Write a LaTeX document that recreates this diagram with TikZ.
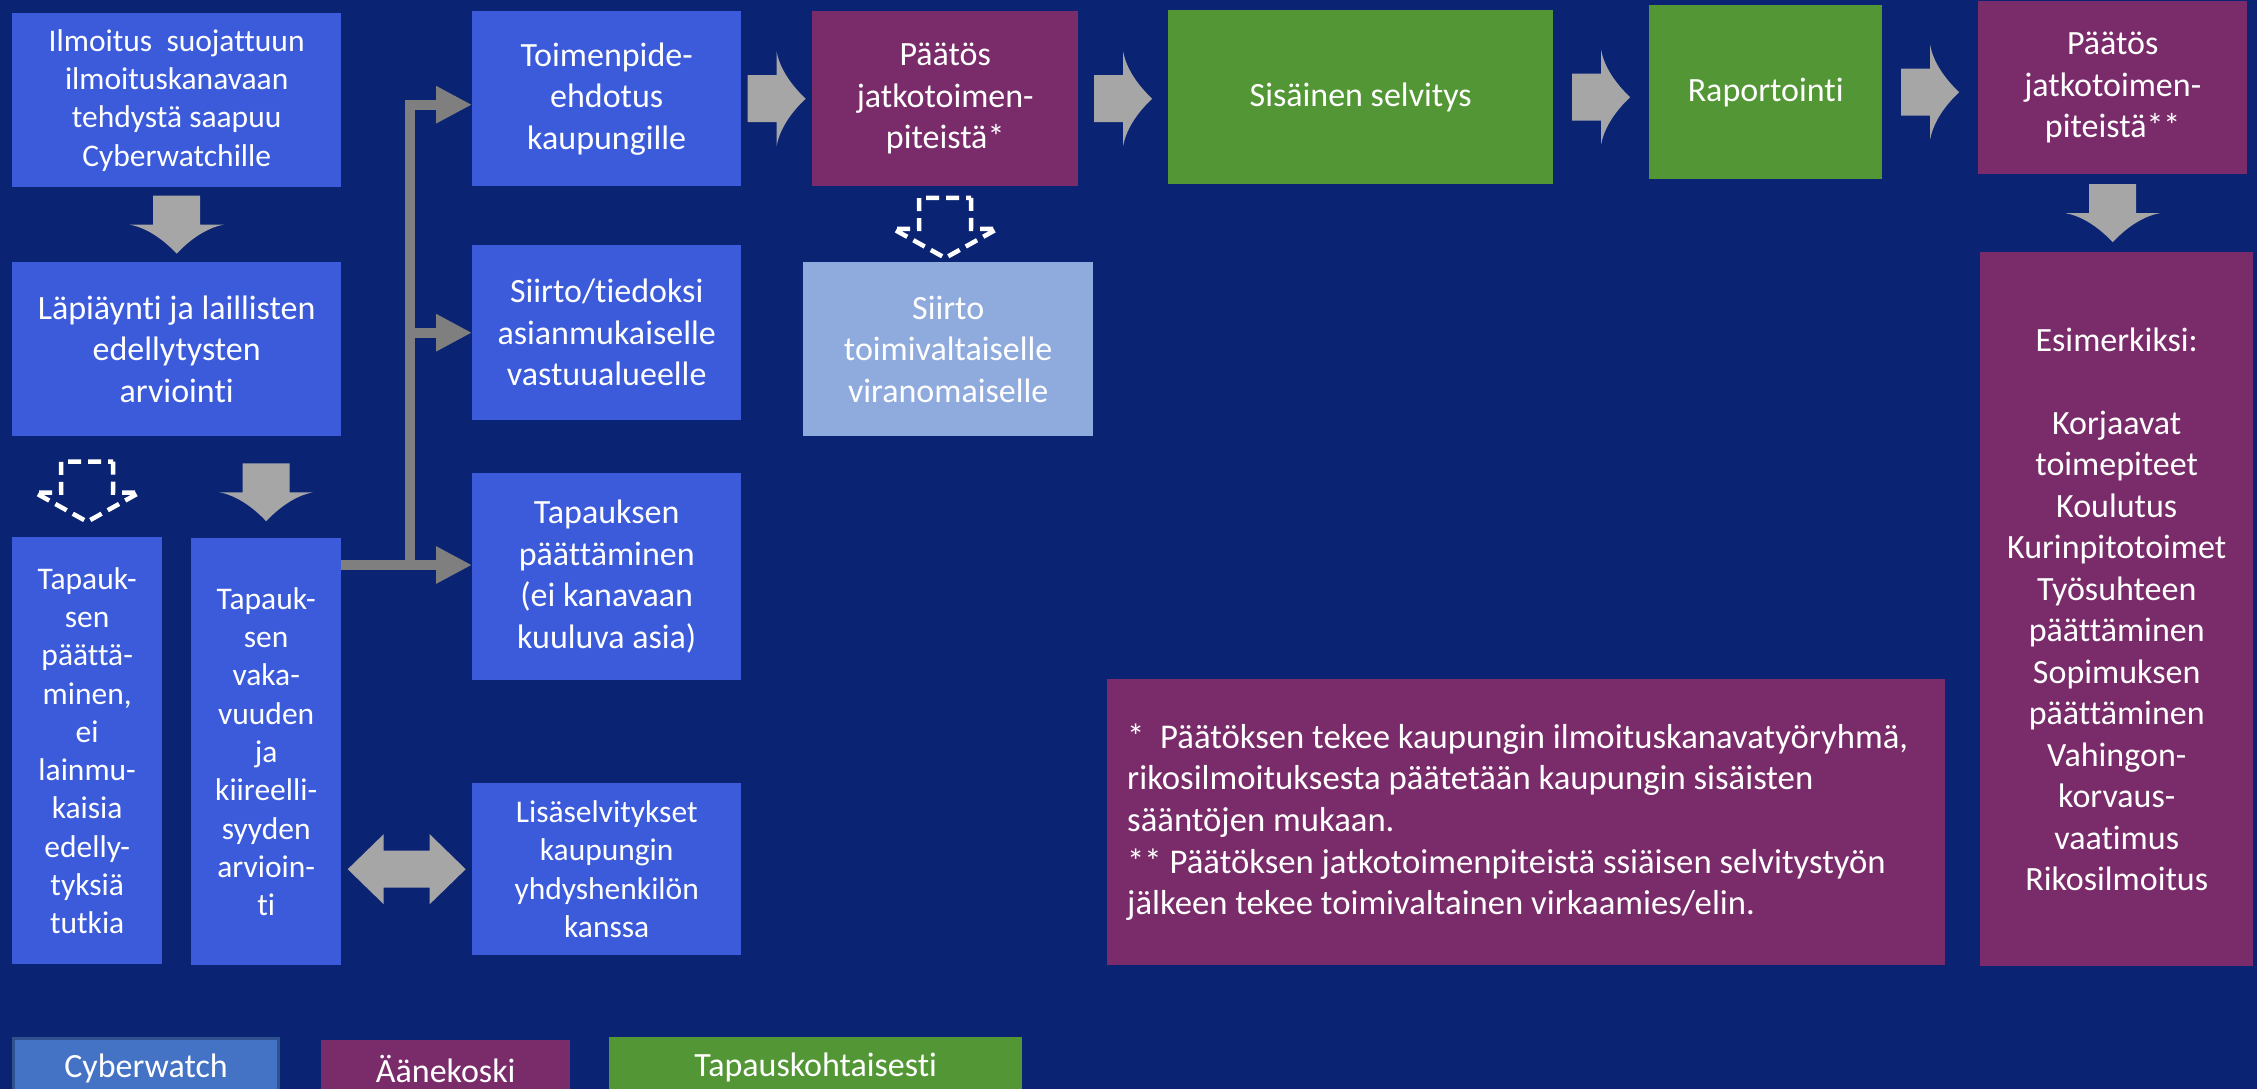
\documentclass[tikz,border=0pt]{standalone}
\usepackage{fontspec}
\setmainfont{Carlito}[Ligatures=NoCommon]
\usetikzlibrary{arrows.meta,calc}
\definecolor{bg}{HTML}{0B2373}
\definecolor{blu}{HTML}{3B5BDB}
\definecolor{purp}{HTML}{7A2C6A}
\definecolor{grn}{HTML}{539636}
\definecolor{lblu}{HTML}{8FAADC}
\definecolor{cyb}{HTML}{4472C4}
\definecolor{cybb}{HTML}{2F528F}
\definecolor{agray}{HTML}{A6A6A6}
\definecolor{cgray}{HTML}{7F7F7F}
\tikzset{
   blk/.pic={\fill[agray] (-29,-23.5) -- (0,-23.5) -- (0,-47)
      .. controls (3,-30) and (15,-13) .. (29,0)
      .. controls (15,13) and (3,30) .. (0,47) -- (0,23.5) -- (-29,23.5) -- cycle;},
   dsh/.pic={\draw[white, line width=4.5pt, dash pattern=on 13pt off 7pt]
      (-30,-26) -- (1,-26) -- (1,-52) -- (30,0) -- (1,52) -- (1,26) -- (-30,26) -- cycle;},
   dbl/.pic={\fill[agray] (-59,0) -- (-23,-35) -- (-23,-18.5) -- (23,-18.5) -- (23,-35)
      -- (59,0) -- (23,35) -- (23,18.5) -- (-23,18.5) -- (-23,35) -- cycle;}
}
\begin{document}
\begin{tikzpicture} [
   x=1pt, y=-1pt,
   bx/.style={anchor=north west, inner sep=0pt, align=center, text=white,
      font=\fontsize{34}{41.5}\selectfont},
   sm/.style={font=\fontsize{31.5}{38.3}\selectfont},
   conn/.style={draw=cgray, line width=10pt, -{Triangle[width=35pt,length=36pt]}}
]
   \clip (0,0) rectangle (2257,1089);
   \fill[bg] (0,0) rectangle (2257,1089);

   \node (ilm) [bx, sm, fill=blu, minimum width=329pt, minimum height=174pt] at (12,13)
      {Ilmoitus~ suojattuun\\ilmoituskanavaan\\tehdystä saapuu\\Cyberwatchille};
   \node (lapi) [bx, fill=blu, minimum width=329pt, minimum height=174pt] at (12,262)
      {Läpiäynti ja laillisten\\edellytysten\\arviointi};
   \node (lop) [bx, sm, fill=blu, minimum width=150pt, minimum height=427pt] at (12,537)
      {Tapauk-\\sen\\päättä-\\minen,\\ei\\lainmu-\\kaisia\\edelly-\\tyksiä\\tutkia};
   \node (vak) [bx, sm, fill=blu, minimum width=150pt, minimum height=427pt] at (191,538)
      {Tapauk-\\sen\\vaka-\\vuuden\\ja\\kiireelli-\\syyden\\arvioin-\\ti};
   \node (toim) [bx, fill=blu, minimum width=269pt, minimum height=175pt] at (472,11)
      {Toimenpide-\\ehdotus\\kaupungille};
   \node (sii) [bx, fill=blu, minimum width=269pt, minimum height=175pt] at (472,245)
      {Siirto/tiedoksi\\asianmukaiselle\\vastuualueelle};
   \node (paatt) [bx, fill=blu, minimum width=269pt, minimum height=207pt] at (472,473)
      {Tapauksen\\päättäminen\\(ei kanavaan\\kuuluva asia)};
   \node (lisa) [bx, sm, fill=blu, minimum width=269pt, minimum height=172pt] at (472,783)
      {Lisäselvitykset\\kaupungin\\yhdyshenkilön\\kanssa};
   \node (paat1) [bx, fill=purp, minimum width=266pt, minimum height=175pt] at (812,11)
      {Päätös\\jatkotoimen-\\piteistä*};
   \node (viran) [bx, fill=lblu, minimum width=290pt, minimum height=174pt] at (803,262)
      {Siirto\\toimivaltaiselle\\viranomaiselle};
   \node (sisa) [bx, fill=grn, minimum width=385pt, minimum height=174pt] at (1168,10)
      {Sisäinen selvitys};
   \node (rap) [bx, fill=grn, minimum width=233pt, minimum height=174pt] at (1649,5)
      {Raportointi};
   \node (paat2) [bx, fill=purp, minimum width=269pt, minimum height=173pt] at (1978,1)
      {Päätös\\jatkotoimen-\\piteistä**};
   \node (esim) [bx, fill=purp, minimum width=273pt, minimum height=714pt] at (1980,252)
      {Esimerkiksi:\\[41.5pt]Korjaavat\\toimepiteet\\Koulutus\\Kurinpitotoimet\\Työsuhteen\\päättäminen\\Sopimuksen\\päättäminen\\Vahingon-\\korvaus-\\vaatimus\\Rikosilmoitus};
   \node (note) [bx, fill=purp, minimum width=838pt, minimum height=286pt] at (1107,679) {};
   \node (notetxt) [bx, anchor=west, align=left, font=\fontsize{34.7}{41.7}\selectfont]
      at ($(note.west)+(20,0)$)
      {*~ Päätöksen tekee kaupungin ilmoituskanavatyöryhmä,\\
       rikosilmoituksesta päätetään kaupungin sisäisten\\
       sääntöjen mukaan.\\
       ** Päätöksen jatkotoimenpiteistä ssiäisen selvitystyön\\
       jälkeen tekee toimivaltainen virkaamies/elin.};

   \node (lcyb) [bx, fill=cyb, draw=cybb, line width=3pt, minimum width=265pt, minimum height=60pt] at (12,1037) {Cyberwatch};
   \node (laan) [bx, fill=purp, minimum width=249pt, minimum height=57pt] at (321,1040) {Äänekoski};
   \node (ltap) [bx, fill=grn, minimum width=413pt, minimum height=60pt] at (609,1037) {Tapauskohtaisesti};

   \pic[rotate=-90] at ($(ilm.south)!.5!(lapi.north)$) {blk};
   \pic[rotate=-90] at ($(vak.north |- lapi.south)!.55!(vak.north)$) {blk};
   \pic[rotate=-90] at ($(lop.north |- lapi.south)!.55!(lop.north)$) {dsh};
   \pic at ($(toim.east)!.5!(toim.east -| paat1.west)$) {blk};
   \pic at ($(paat1.east)!.5!(paat1.east -| sisa.west)$) {blk};
   \pic at ($(sisa.east)!.5!(sisa.east -| rap.west)$) {blk};
   \pic at ($(rap.east)!.5!(rap.east -| paat2.west)$) {blk};
   \pic[rotate=-90] at ($(paat2.south)!.5!(paat2.south |- esim.north)$) {blk};
   \pic[rotate=-90] at ($(paat1.south)!.55!(paat1.south |- viran.north)$) {dsh};
   \pic at ($(lisa.west -| vak.east)!.5!(lisa.west)$) {dbl};

   \coordinate (split) at (410,565);
   \draw[conn] (vak.east |- split) -- (split -| paatt.west);
   \draw[conn] (split) |- ($(toim.west)+(0,6)$);
   \draw[conn] (split) |- (sii.west);
\end{tikzpicture}
\end{document}
